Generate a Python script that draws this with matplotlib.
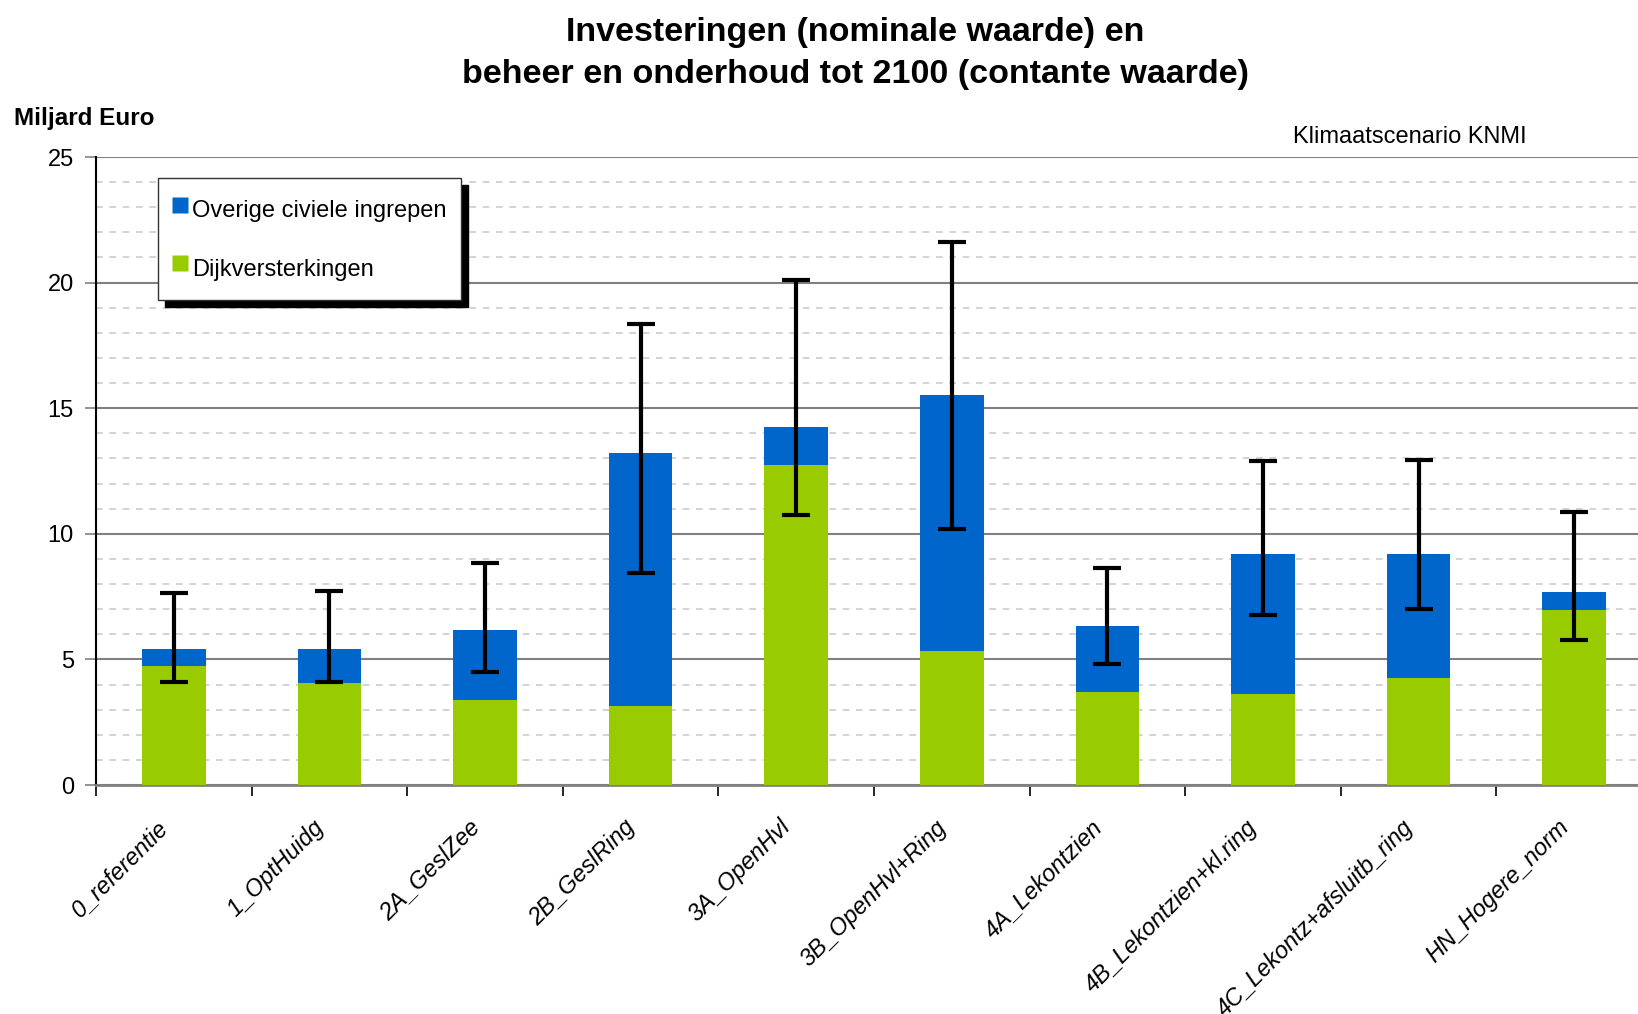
import numpy as np
import matplotlib
matplotlib.use("Agg")
import matplotlib.pyplot as plt
import matplotlib.transforms as mtransforms
from matplotlib.lines import Line2D
from matplotlib.ticker import MultipleLocator

plt.rcParams["font.family"] = ["Liberation Sans", "DejaVu Sans"]

# ---------------- DATA ----------------
categories = ["0_referentie", "1_OptHuidg", "2A_GeslZee", "2B_GeslRing", "3A_OpenHvl",
              "3B_OpenHvl+Ring", "4A_Lekontzien", "4B_Lekontzien+kl.ring",
              "4C_Lekontz+afsluitb_ring", "HN_Hogere_norm"]
dijk = [4.72, 4.06, 3.37, 3.16, 12.73, 5.32, 3.70, 3.62, 4.24, 6.96]
overig = [0.69, 1.35, 2.79, 10.07, 1.54, 10.20, 2.62, 5.57, 4.95, 0.72]
err_low = [4.09, 4.09, 4.49, 8.44, 10.73, 10.19, 4.83, 6.78, 6.99, 5.79]
err_high = [7.66, 7.73, 8.82, 18.34, 20.09, 21.63, 8.65, 12.90, 12.94, 10.85]

BLUE = "#0066CC"
GREEN = "#99CC00"

# ---------------- FIGURE ----------------
fig = plt.figure(figsize=(16.38, 10.14), dpi=100)
ax = fig.add_axes([96 / 1638, 229 / 1014, 1556 / 1638, 628 / 1014])

x = np.arange(len(categories))
dijk = np.array(dijk)
overig = np.array(overig)
total = dijk + overig

ax.bar(x, dijk, width=0.41, color=GREEN, zorder=3)
ax.bar(x, overig, width=0.41, bottom=dijk, color=BLUE, zorder=3)

yerr = [total - np.array(err_low), np.array(err_high) - total]
ax.errorbar(x, total, yerr=yerr, fmt="none", ecolor="black", elinewidth=3,
            capsize=10, capthick=3, zorder=4)

ax.set_xlim(-0.5, len(categories) - 0.5)
ax.set_ylim(0, 25)

# grid
ax.yaxis.set_major_locator(MultipleLocator(5))
ax.yaxis.set_minor_locator(MultipleLocator(1))
ax.grid(axis="y", which="major", color="#808080", linewidth=1.5, zorder=0)
ax.grid(axis="y", which="minor", color="#cccccc", linewidth=1.2,
        linestyle=(0, (4, 4)), zorder=0)

for s in ["top", "right"]:
    ax.spines[s].set_visible(False)
ax.spines["left"].set_color("black")
ax.spines["left"].set_linewidth(1.5)
ax.spines["bottom"].set_color("#808080")
ax.spines["bottom"].set_linewidth(2)

ax.tick_params(axis="y", which="major", length=8, width=1.2, color="#808080",
               labelsize=17, pad=8)
ax.tick_params(axis="y", which="minor", length=0)

# x ticks: labels at centres, tick marks at slot boundaries
ax.set_xticks(x)
ax.set_xticklabels(categories, rotation=45, ha="right", va="top",
                   rotation_mode="anchor", fontsize=17, style="italic")
ax.tick_params(axis="x", which="major", length=0, pad=22)
ax.set_xticks(np.arange(-0.5, len(categories), 1.0), minor=True)
ax.tick_params(axis="x", which="minor", length=8, width=1.2, color="black")
shift = mtransforms.ScaledTranslation(-17 / 100, 0, fig.dpi_scale_trans)
for lbl in ax.get_xticklabels():
    lbl.set_transform(lbl.get_transform() + shift)

# texts
fig.text(855 / 1638, 1 - 33 / 1014, "Investeringen (nominale waarde) en",
         ha="center", va="center", fontsize=24.5, fontweight="bold")
fig.text(855 / 1638, 1 - 75 / 1014, "beheer en onderhoud tot 2100 (contante waarde)",
         ha="center", va="center", fontsize=24.5, fontweight="bold")
fig.text(14 / 1638, 1 - 118 / 1014, "Miljard Euro", ha="left", va="center",
         fontsize=17.5, fontweight="bold")
fig.text(1527 / 1638, 1 - 137 / 1014, "Klimaatscenario KNMI", ha="right",
         va="center", fontsize=17)

handles = [Line2D([], [], linestyle="none", marker="s", markersize=11.3,
                  markerfacecolor=BLUE, markeredgecolor="none",
                  label="Overige civiele ingrepen"),
           Line2D([], [], linestyle="none", marker="s", markersize=11.3,
                  markerfacecolor=GREEN, markeredgecolor="none",
                  label="Dijkversterkingen")]
leg = ax.legend(handles=handles, loc="upper left",
                bbox_to_anchor=(158 / 1638, 1 - 178 / 1014),
                bbox_transform=fig.transFigure, borderaxespad=0,
                fontsize=17, frameon=True, fancybox=False, framealpha=1,
                edgecolor="#333333", handlelength=0.7, handleheight=1.9,
                handletextpad=0.15, labelspacing=1.0, borderpad=0.6,
                shadow={"color": "black", "alpha": 1, "ox": 5, "oy": -5})
leg.set_zorder(10)

plt.savefig("out.png", dpi=100)
